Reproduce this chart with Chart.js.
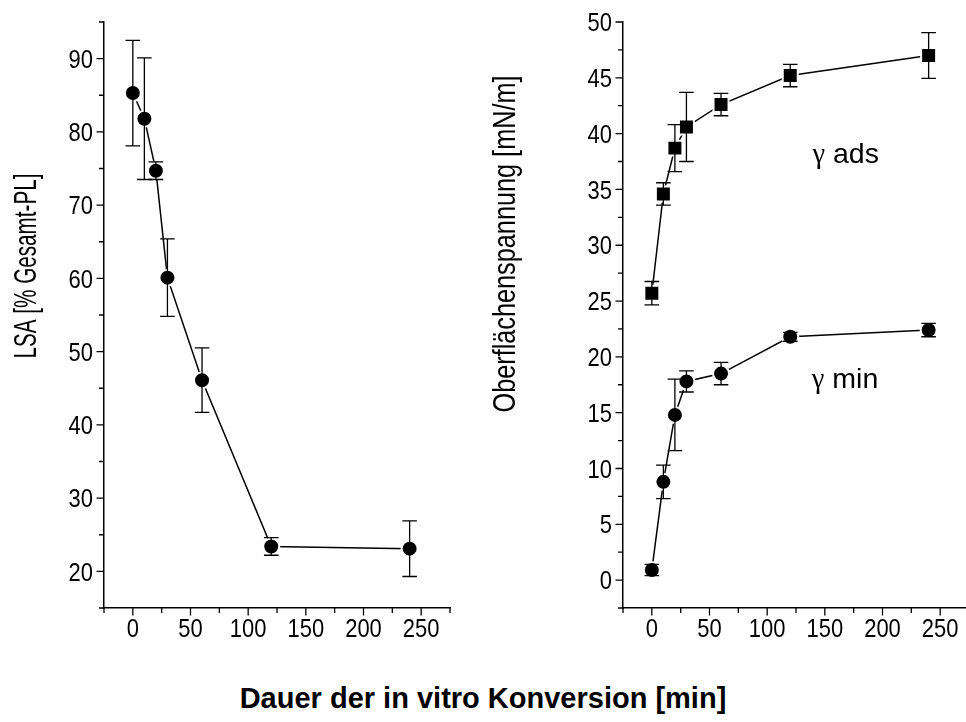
<!DOCTYPE html>
<html>
<head>
<meta charset="utf-8">
<title>Dauer der in vitro Konversion</title>
<script src="https://cdn.jsdelivr.net/npm/chart.js@4.4.0/dist/chart.umd.min.js"></script>
<style>
  html, body { margin: 0; padding: 0; background: #fff; overflow: hidden; width: 966px; height: 722px; }
  canvas { position: absolute; top: 0; }
  #leftChart { left: 0; }
  #rightChart { left: 483px; }
  #xTitle {
    position: absolute; left: 0; top: 682px; width: 966px;
    text-align: center; line-height: 29px;
    font: bold 29px "Liberation Sans", Arial, sans-serif; color: #000;
  }
</style>
</head>
<body>
<canvas id="leftChart" width="483" height="650"></canvas>
<canvas id="rightChart" width="507" height="650"></canvas>
<div id="xTitle">Dauer der in vitro Konversion [min]</div>

<script>
// Messzeitpunkte [min]
const minutes = [0, 10, 20, 30, 60, 120, 240];

// LSA-Anteil [% Gesamt-PL] mit Standardabweichung
const lsa = [85.3, 81.8, 74.7, 60.1, 46.1, 23.4, 23.1];
const lsaErr = [7.2, 8.3, 1.2, 5.3, 4.4, 1.2, 3.8];

// Oberflächenspannung [mN/m]
const gammaAds = [25.7, 34.6, 38.7, 40.6, 42.6, 45.2, 47.0];
const gammaAdsErr = [1.05, 1.0, 2.1, 3.1, 1.0, 1.0, 2.05];
const gammaMin = [0.9, 8.8, 14.8, 17.8, 18.5, 21.8, 22.4];
const gammaMinErr = [0.5, 1.5, 3.2, 0.95, 1.0, 0.4, 0.6];

const sans = '"Liberation Sans", Arial, sans-serif';
const serif = '"Liberation Serif", "Times New Roman", serif';
const labelSize = 25.5;   // Schriftgröße der Achsenzahlen
const labelSqueeze = 0.86; // schmalere Ziffern

const points = (xs, ys) => xs.map((x, i) => ({ x: x, y: ys[i] }));

// Fehlerbalken aus dem Array "errors" des Datensatzes
const errorBars = {
    id: 'errorBars',
    afterDatasetsDraw(chart) {
        const ctx = chart.ctx;
        const yScale = chart.scales.y;
        chart.data.datasets.forEach((ds, i) => {
            const meta = chart.getDatasetMeta(i);
            ctx.save();
            ctx.strokeStyle = '#000';
            ctx.lineWidth = 1.3;
            meta.data.forEach((pt, j) => {
                const v = ds.data[j].y, e = ds.errors[j];
                const top = yScale.getPixelForValue(v + e);
                const bot = yScale.getPixelForValue(v - e);
                ctx.beginPath();
                ctx.moveTo(pt.x, top); ctx.lineTo(pt.x, bot);
                ctx.moveTo(pt.x - 7.3, top); ctx.lineTo(pt.x + 7.3, top);
                ctx.moveTo(pt.x - 7.3, bot); ctx.lineTo(pt.x + 7.3, bot);
                ctx.stroke();
            });
            ctx.restore();
        });
    }
};

function squeezedText(ctx, text, x, y, sx) {
    ctx.save();
    ctx.translate(x, y);
    ctx.scale(sx, 1);
    ctx.fillText(text, 0, 0);
    ctx.restore();
}

// Striche nach außen und schmale Zahlen an beiden Achsen
const axisMarks = {
    id: 'axisMarks',
    afterDraw(chart) {
        const ctx = chart.ctx;
        const area = chart.chartArea;
        const xs = chart.scales.x, ys = chart.scales.y;
        ctx.save();
        ctx.strokeStyle = '#000';
        ctx.lineWidth = 1.3;
        ctx.beginPath();
        xs.ticks.forEach(t => {
            const px = xs.getPixelForValue(t.value);
            const len = t.label === '' ? 5 : 7.5;
            ctx.moveTo(px, area.bottom); ctx.lineTo(px, area.bottom + len);
        });
        ys.ticks.forEach(t => {
            const py = ys.getPixelForValue(t.value);
            const len = t.label === '' ? 5 : 7.5;
            ctx.moveTo(area.left, py); ctx.lineTo(area.left - len, py);
        });
        ctx.stroke();

        ctx.fillStyle = '#000';
        ctx.font = labelSize + 'px ' + sans;
        ctx.textBaseline = 'alphabetic';
        const capHalf = labelSize * 0.716 / 2;
        ctx.textAlign = 'center';
        xs.ticks.forEach(t => {
            if (t.label === '') return;
            squeezedText(ctx, t.label, xs.getPixelForValue(t.value), area.bottom + 29, labelSqueeze);
        });
        ctx.textAlign = 'right';
        ys.ticks.forEach(t => {
            if (t.label === '') return;
            squeezedText(ctx, t.label, area.left - 11, ys.getPixelForValue(t.value) + capHalf, labelSqueeze);
        });
        ctx.restore();
    }
};

// Achsentitel (gedreht) und Kurvenbeschriftungen
const texts = {
    id: 'texts',
    afterDraw(chart, args, opts) {
        const ctx = chart.ctx;
        ctx.save();
        ctx.fillStyle = '#000';
        ctx.textBaseline = 'alphabetic';
        if (opts.side) {
            const s = opts.side;
            ctx.save();
            ctx.translate(s.x, s.y);
            ctx.rotate(-Math.PI / 2);
            ctx.font = s.size + 'px ' + sans;
            ctx.textAlign = 'center';
            ctx.scale(s.length / ctx.measureText(s.text).width, 1);
            ctx.fillText(s.text, 0, 0);
            ctx.restore();
        }
        (opts.notes || []).forEach(n => {
            let px = chart.scales.x.getPixelForValue(n.x);
            const py = chart.scales.y.getPixelForValue(n.y);
            ctx.textAlign = 'left';
            ctx.font = n.size + 'px ' + serif;
            ctx.fillText(n.symbol, px, py);
            px += ctx.measureText(n.symbol).width;
            ctx.font = n.size + 'px ' + sans;
            ctx.fillText(n.text, px, py);
        });
        ctx.restore();
    }
};

function xAxis() {
    return {
        type: 'linear', min: -25, max: 275,
        afterFit: s => { s.height = 42; },
        grid: { drawOnChartArea: false, drawTicks: false },
        border: { display: true, color: '#000', width: 1.5 },
        ticks: {
            display: false, stepSize: 25, autoSkip: false,
            callback: v => (v >= 0 && v % 50 === 0 ? String(v) : '')
        }
    };
}

function yAxis(min, max, step, major, width) {
    return {
        type: 'linear', min: min, max: max,
        afterFit: s => { s.width = width; },
        grid: { drawOnChartArea: false, drawTicks: false },
        border: { display: true, color: '#000', width: 1.5 },
        ticks: {
            display: false, stepSize: step, autoSkip: false,
            callback: v => (Math.abs(v % major) < 1e-6 ? String(v) : '')
        }
    };
}

function series(data, errors, style, radius) {
    return {
        data: data, errors: errors,
        showLine: true, tension: 0,
        borderColor: '#000', borderWidth: 1.5,
        pointStyle: style, pointRadius: radius,
        pointBackgroundColor: '#000', pointBorderColor: '#fff', pointBorderWidth: 2
    };
}

const baseOptions = {
    responsive: false,
    animation: false,
    events: [],
    plugins: { legend: { display: false }, tooltip: { enabled: false } }
};

new Chart(document.getElementById('leftChart'), {
    type: 'scatter',
    data: { datasets: [series(points(minutes, lsa), lsaErr, 'circle', 8)] },
    options: {
        ...baseOptions,
        layout: { padding: { left: 0, right: 33, top: 22, bottom: 0 } },
        scales: { x: xAxis(), y: yAxis(15, 95, 5, 10, 104) },
        plugins: {
            ...baseOptions.plugins,
            texts: { side: { text: 'LSA [% Gesamt-PL]', x: 36, y: 266, size: 31, length: 185 } }
        }
    },
    plugins: [errorBars, axisMarks, texts]
});

new Chart(document.getElementById('rightChart'), {
    type: 'scatter',
    data: {
        datasets: [
            series(points(minutes, gammaAds), gammaAdsErr, 'rect', 10.6),
            series(points(minutes, gammaMin), gammaMinErr, 'circle', 8)
        ]
    },
    options: {
        ...baseOptions,
        layout: { padding: { left: 0, right: 21, top: 22, bottom: 0 } },
        scales: { x: xAxis(), y: yAxis(-2.5, 50, 2.5, 5, 140) },
        plugins: {
            ...baseOptions.plugins,
            texts: {
                side: { text: 'Oberflächenspannung [mN/m]', x: 32, y: 244, size: 31, length: 337 },
                notes: [
                    { symbol: 'γ', text: ' ads', x: 139.3, y: 37.4, size: 28.5 },
                    { symbol: 'γ', text: ' min', x: 138.7, y: 17.2, size: 28.5 }
                ]
            }
        }
    },
    plugins: [errorBars, axisMarks, texts]
});
</script>
</body>
</html>
